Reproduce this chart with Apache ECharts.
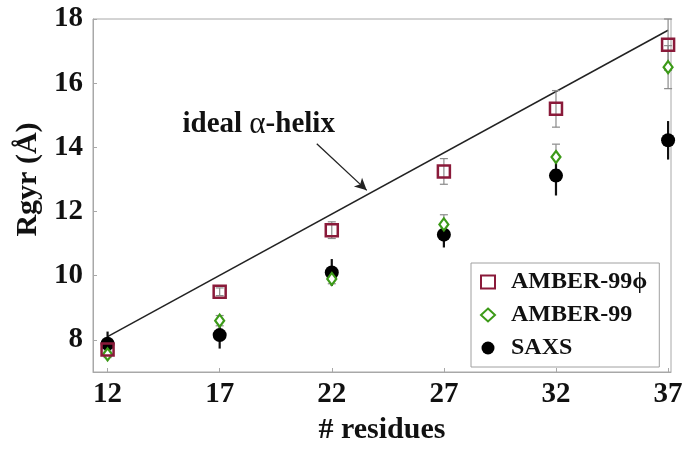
<!DOCTYPE html>
<html>
<head>
<meta charset="utf-8">
<script src="https://cdn.jsdelivr.net/npm/echarts@6/dist/echarts.min.js"></script>
<style>
html,body{margin:0;padding:0;background:#fff;}
#c{width:687px;height:450px;}
</style>
</head>
<body>
<div id="c"></div>
<script>
var residues = [12, 17, 22, 27, 32, 37];
var amber99phi = [7.7, 9.5, 11.42, 13.25, 15.2, 17.2];
var amber99phiErr = [0.12, 0.12, 0.26, 0.4, 0.57, 0.8];
var amber99 = [7.55, 8.6, 9.9, 11.6, 13.7, 16.5];
var amber99Err = [0.1, 0.16, 0.15, 0.3, 0.4, 0.67];
var saxs = [7.88, 8.15, 10.1, 11.28, 13.12, 14.22];
var saxsErr = [0.38, 0.42, 0.42, 0.4, 0.62, 0.6];
var helixX = [12, 37];
var helixY = [8.1, 17.65];
var xTicks = [12, 17, 22, 27, 32, 37];
var yTicks = [8, 10, 12, 14, 16, 18];

var FONT = "'Liberation Serif','Times New Roman',serif";

function pairs(xs, ys) { return xs.map(function (x, i) { return [x, ys[i]]; }); }
function errData(xs, ys, es) { return xs.map(function (x, i) { return [x, ys[i] - es[i], ys[i] + es[i]]; }); }

function errRender(color, width, cap) {
  return function (params, api) {
    var x = api.value(0);
    var lo = api.coord([x, api.value(1)]);
    var hi = api.coord([x, api.value(2)]);
    var children = [{
      type: 'line', shape: { x1: lo[0], y1: lo[1], x2: hi[0], y2: hi[1] },
      style: { stroke: color, lineWidth: width }
    }];
    if (cap) {
      children.push({ type: 'line', shape: { x1: lo[0] - cap, y1: lo[1], x2: lo[0] + cap, y2: lo[1] }, style: { stroke: color, lineWidth: width } });
      children.push({ type: 'line', shape: { x1: hi[0] - cap, y1: hi[1], x2: hi[0] + cap, y2: hi[1] }, style: { stroke: color, lineWidth: width } });
    }
    return { type: 'group', children: children };
  };
}

var chart = echarts.init(document.getElementById('c'));
chart.setOption({
  backgroundColor: '#fff',
  animation: false,
  textStyle: { fontFamily: FONT },
  grid: { left: 93, right: 16, top: 19, bottom: 70, show: true, borderColor: '#a8a8a8', borderWidth: 1 },
  xAxis: {
    type: 'value', min: 11.35, max: 37.13,
    name: '# residues', nameLocation: 'middle', nameGap: 43,
    nameTextStyle: { fontSize: 30, fontWeight: 'bold', color: '#111', fontFamily: FONT },
    axisLine: { show: true, lineStyle: { color: '#a8a8a8' } },
    axisTick: { show: true, inside: true, length: 4, customValues: xTicks, lineStyle: { color: '#a8a8a8' } },
    axisLabel: { customValues: xTicks, margin: 8, fontSize: 29, fontWeight: 'bold', color: '#111', fontFamily: FONT },
    splitLine: { show: false }
  },
  yAxis: {
    type: 'value', min: 7, max: 18,
    name: 'Rgyr (Å)', nameLocation: 'middle', nameGap: 50, nameRotate: 90,
    nameTextStyle: { fontSize: 30, fontWeight: 'bold', color: '#111', fontFamily: FONT, padding: [0, 0, 0, 32] },
    axisLine: { show: true, lineStyle: { color: '#a8a8a8' } },
    axisTick: { show: true, inside: true, length: 4, customValues: yTicks, lineStyle: { color: '#a8a8a8' } },
    axisLabel: { customValues: yTicks, margin: 10, fontSize: 29, fontWeight: 'bold', color: '#111', fontFamily: FONT },
    splitLine: { show: false }
  },
  legend: {
    orient: 'vertical', left: 471, top: 263,
    padding: [7, 12, 7, 9], itemGap: 9,
    itemWidth: 14, itemHeight: 13,
    borderColor: '#a0a0a0', borderWidth: 1, backgroundColor: '#fff',
    textStyle: { fontSize: 24, fontWeight: 'bold', color: '#111', fontFamily: FONT, padding: [0, 0, 0, 11] },
    data: ['AMBER-99ϕ', 'AMBER-99', 'SAXS']
  },
  series: [
    {
      type: 'line', name: 'ideal', data: pairs(helixX, helixY), showSymbol: false, symbol: 'none',
      lineStyle: { color: '#222', width: 1.5 }, z: 2, silent: true,
      markLine: {
        silent: true, symbol: ['none', 'arrow'], symbolSize: [9, 12],
        lineStyle: { color: '#222', width: 1.3, type: 'solid' }, label: { show: false },
        data: [[{ coord: [21.33, 14.11] }, { coord: [23.56, 12.66] }]]
      },
      markPoint: {
        silent: true, symbol: 'circle', symbolSize: 0,
        label: {
          show: true, position: 'inside',
          formatter: '{b|ideal }{a|α}{b|-helix}',
          rich: {
            b: { fontSize: 29, fontWeight: 'bold', color: '#111', fontFamily: FONT },
            a: { fontSize: 31, fontWeight: 'normal', color: '#111', fontFamily: FONT }
          }
        },
        data: [{ coord: [18.74, 14.7] }]
      }
    },
    { type: 'custom', name: 'errPhi', data: errData(residues, amber99phi, amber99phiErr), renderItem: errRender('#8a8a8a', 1.2, 4), z: 3, silent: true },
    { type: 'custom', name: 'err99', data: errData(residues, amber99, amber99Err), renderItem: errRender('#8a8a8a', 1.2, 4), z: 3, silent: true },
    { type: 'custom', name: 'errSaxs', data: errData(residues, saxs, saxsErr), renderItem: errRender('#111', 2.2, 0), z: 3, silent: true },
    {
      type: 'scatter', name: 'SAXS', data: pairs(residues, saxs), symbol: 'circle', symbolSize: 14,
      itemStyle: { color: '#000', opacity: 1 }, z: 4
    },
    {
      type: 'scatter', name: 'AMBER-99', data: pairs(residues, amber99), symbol: 'diamond', symbolSize: [9, 12],
      itemStyle: { color: '#fff', borderColor: '#3c9a18', borderWidth: 2.2, opacity: 1 }, z: 5
    },
    {
      type: 'scatter', name: 'AMBER-99ϕ', data: pairs(residues, amber99phi), symbol: 'rect', symbolSize: 12,
      itemStyle: { color: 'rgba(255,255,255,0)', borderColor: '#8a1a3a', borderWidth: 2.5, opacity: 1 }, z: 6
    }
  ]
});
</script>
</body>
</html>
